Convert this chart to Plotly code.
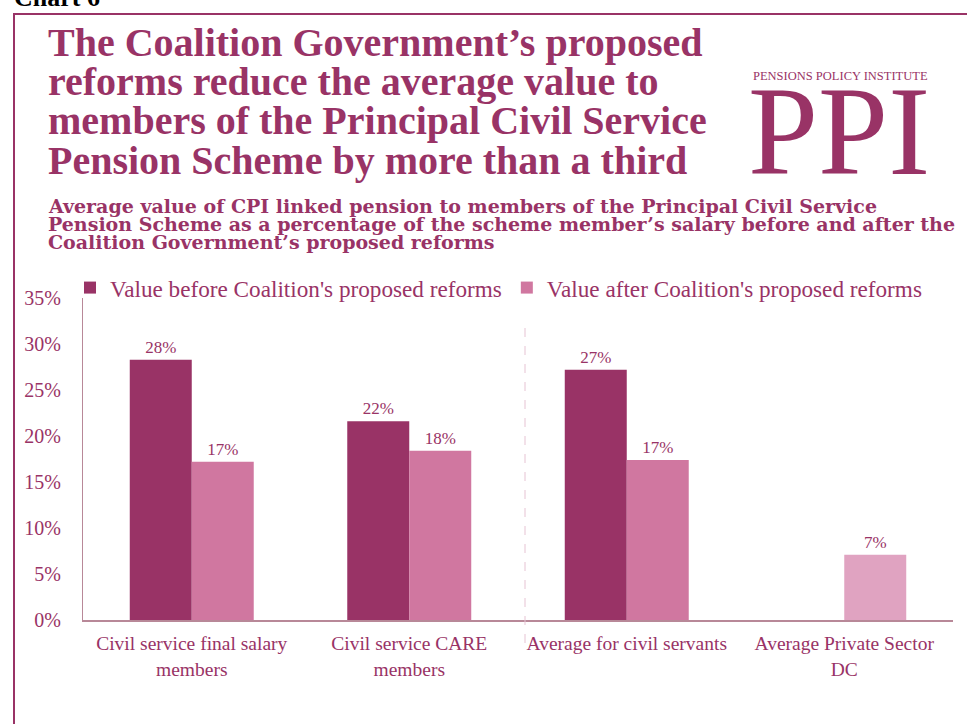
import plotly.graph_objects as go

categories = ["Civil service final salary<br>members", "Civil service CARE<br>members",
              "Average for civil servants", "Average Private Sector<br>DC"]
before_values = [28.3, 21.6, 27.2, None]
after_values = [17.2, 18.4, 17.4, 7.1]
before_labels = ["28%", "22%", "27%", ""]
after_labels = ["17%", "18%", "17%", "7%"]
series_names = ["Value before Coalition's proposed reforms", "Value after Coalition's proposed reforms"]
y_ticks = [0, 5, 10, 15, 20, 25, 30, 35]

DARK = "#993366"
LIGHT = "#D077A0"
LIGHTEST = "#E0A3C1"
TXT = "#993366"
SERIF = "Liberation Serif"

W, H = 967, 724
L, R, T, B = 83, 14, 298, 104
PW, PH = W - L - R, H - T - B

def px(x):
    return (x - L) / PW

def py(y):
    return (H - B - y) / PH

fig = go.Figure()
fig.add_trace(go.Bar(x=categories, y=before_values, name=series_names[0],
                     marker=dict(color=DARK, line=dict(width=0)),
                     text=before_labels, textposition="outside",
                     textfont=dict(family=SERIF, size=17, color=TXT), cliponaxis=False))
fig.add_trace(go.Bar(x=categories, y=after_values, name=series_names[1],
                     marker=dict(color=[LIGHT, LIGHT, LIGHT, LIGHTEST], line=dict(width=0)),
                     text=after_labels, textposition="outside",
                     textfont=dict(family=SERIF, size=17, color=TXT), cliponaxis=False))

fig.update_layout(
    width=W, height=H,
    margin=dict(l=L, r=R, t=T, b=B),
    plot_bgcolor="white", paper_bgcolor="white",
    barmode="group", bargap=0.43, bargroupgap=0,
    showlegend=True,
    legend=dict(orientation="h", x=px(70), y=py(288), xanchor="left", yanchor="middle",
                font=dict(family=SERIF, size=23.2, color=TXT), itemwidth=30,
                traceorder="normal", bgcolor="rgba(0,0,0,0)"),
    xaxis=dict(showline=True, linecolor="#B88898", linewidth=2, ticks="",
               ticklabelstandoff=5,
               tickfont=dict(family=SERIF, size=19.5, color=TXT), showgrid=False),
    yaxis=dict(range=[0, 35], tickvals=y_ticks, ticktext=[f"{v}%" for v in y_ticks],
               showline=True, linecolor="#B88898", linewidth=1, showgrid=False,
               zeroline=False, ticks="", ticklen=0, ticklabelstandoff=17,
               tickfont=dict(family=SERIF, size=20, color=TXT)),
    font=dict(family=SERIF, color=TXT),
)

# dashed separator
fig.add_shape(type="line", xref="paper", yref="paper", x0=px(525), x1=px(525),
              y0=py(328), y1=py(645), line=dict(color="#E6C3D3", width=1, dash="dash"))
# frame
fig.add_shape(type="line", xref="paper", yref="paper", x0=px(14), x1=px(14),
              y0=py(730), y1=py(13), line=dict(color=DARK, width=2))
fig.add_shape(type="line", xref="paper", yref="paper", x0=px(13), x1=px(975),
              y0=py(14), y1=py(14), line=dict(color=DARK, width=2))

title_lines = ["The Coalition Government\u2019s proposed",
               "reforms reduce the average value to",
               "members of the Principal Civil Service",
               "Pension Scheme by more than a third"]
for i, t in enumerate(title_lines):
    fig.add_annotation(text=t, xref="paper", yref="paper", x=px(46), y=py(42 + i * 39.5),
                       xanchor="left", yanchor="middle", showarrow=False,
                       font=dict(family=SERIF, size=40, color=DARK, weight="bold"))

sub_lines = ["Average value of CPI linked pension to members of the Principal Civil Service",
             "Pension Scheme as a percentage of the scheme member\u2019s salary before and after the",
             "Coalition Government\u2019s proposed reforms"]
for i, t in enumerate(sub_lines):
    fig.add_annotation(text=t, xref="paper", yref="paper", x=px(46), y=py(206 + i * 18),
                       xanchor="left", yanchor="middle", showarrow=False,
                       font=dict(family="DejaVu Serif", size=19, color=DARK, weight="bold"))

fig.add_annotation(text="Chart 6", xref="paper", yref="paper", x=px(12), y=py(-3),
                   xanchor="left", yanchor="middle", showarrow=False,
                   font=dict(family=SERIF, size=26, color="black", weight="bold"))

fig.add_annotation(text="PENSIONS POLICY INSTITUTE", xref="paper", yref="paper",
                   x=px(840), y=py(76), xanchor="center", yanchor="middle", showarrow=False,
                   font=dict(family=SERIF, size=12.5, color=DARK))
fig.add_annotation(text="PPI", xref="paper", yref="paper",
                   x=px(839), y=py(131), xanchor="center", yanchor="middle", showarrow=False,
                   font=dict(family=SERIF, size=126, color=DARK))

fig.write_html("out.html", post_script="document.body.style.margin='0';",
               config={"displayModeBar": False})
